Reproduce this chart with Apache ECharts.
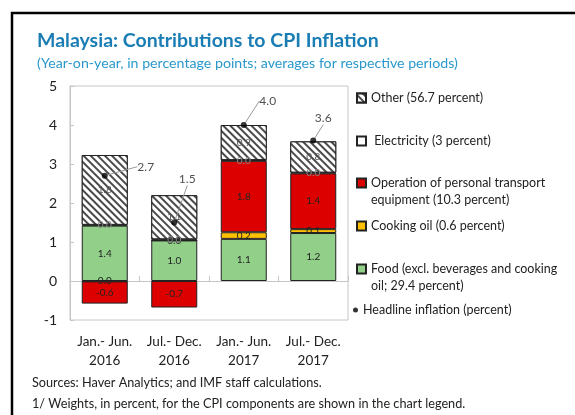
<!DOCTYPE html>
<html>
<head>
<meta charset="utf-8">
<script src="https://cdn.jsdelivr.net/npm/echarts@6/dist/echarts.min.js"></script>
<style>
html,body{margin:0;padding:0;background:#fff;}
#chart{width:575px;height:415px;}
</style>
</head>
<body>
<div id="chart"></div>
<script>
var periods = ["Jan.- Jun.\n2016", "Jul.- Dec.\n2016", "Jan.- Jun.\n2017", "Jul.- Dec.\n2017"];

var food = [1.42, 1.04, 1.08, 1.23];
var cookingOil = [-0.01, 0.0, 0.17, 0.1];
var transport = [-0.57, -0.68, 1.83, 1.43];
var electricity = [0.02, 0.03, 0.02, 0.02];
var other = [1.79, 1.13, 0.9, 0.8];
var headline = [2.7, 1.5, 4.0, 3.6];

var names = [
    "Other (56.7 percent)",
    " Electricity (3 percent)",
    "Operation of personal transport\nequipment (10.3 percent)",
    "Cooking oil (0.6 percent)",
    "Food (excl. beverages and cooking\noil; 29.4 percent)",
    "Headline inflation (percent)"
];

// label offsets for the headline callouts
var calloutDx = [41, 13, 24, 10];
var calloutDy = [-9, -43, -24, -22];

var font = "Lato, 'Open Sans', sans-serif";

chartMain();

function chartMain() {
    var chart = echarts.init(document.getElementById("chart"));

    function fmt(p) {
        var v = Math.round(p.value * 10) / 10;
        if (v === 0) v = 0;
        return v.toFixed(1);
    }

    function barSeries(name, data, fill, labelColor) {
        return {
            name: name,
            type: "bar",
            stack: "cpi",
            barWidth: 46,
            data: data,
            itemStyle: {
                color: fill,
                borderColor: "#222",
                borderWidth: 1
            },
            label: {
                show: true,
                position: "inside",
                formatter: fmt,
                fontFamily: font,
                fontSize: 10,
                color: labelColor
            }
        };
    }

    var hatch = {
        symbol: "rect",
        symbolSize: 1,
        color: "#4a4a4a",
        backgroundColor: "#ffffff",
        dashArrayX: [1, 0],
        dashArrayY: [1.8, 3],
        rotation: Math.PI / 4
    };

    var series = [
        barSeries(names[4], food, "#92d08a", "#222"),
        barSeries(names[3], cookingOil, "#ffc000", "#222"),
        barSeries(names[2], transport, "#dd0000", "#222"),
        barSeries(names[1], electricity, "#ffffff", "#8a8a8a"),
        barSeries(names[0], other, "#ffffff", "#555")
    ];
    series[4].itemStyle.decal = hatch;

    series.push({
        name: names[5],
        type: "scatter",
        data: headline,
        symbol: "circle",
        symbolSize: 6,
        z: 5,
        itemStyle: { color: "#000" },
        label: {
            show: true,
            position: "inside",
            formatter: function (p) { return p.value.toFixed(1); },
            fontFamily: font,
            fontSize: 12,
            color: "#222"
        },
        labelLayout: function (p) {
            return { dx: calloutDx[p.dataIndex], dy: calloutDy[p.dataIndex] };
        },
        labelLine: {
            show: true,
            lineStyle: { color: "#999", width: 1 }
        }
    });

    // first-line centre of each legend entry; two-line entries get an
    // empty line on top so the icon sits beside their first line
    var legendRows = [98, 141, 183, 226, 269, 310];
    var legends = [];
    for (var i = 0; i < names.length; i++) {
        var twoLine = names[i].indexOf("\n") >= 0;
        legends.push({
            data: [{ name: names[i], icon: i === 5 ? "circle" : "rect" }],
            formatter: twoLine ? function (n) { return " \n" + n; } : "{name}",
            left: i === 5 ? 353 : 356,
            top: legendRows[i] - (twoLine ? 25.5 : 8.5),
            padding: 0,
            itemWidth: i === 5 ? 5 : 9,
            itemHeight: i === 5 ? 5 : 9,
            itemGap: 0,
            selectedMode: false,
            textStyle: {
                fontFamily: font,
                fontSize: 12.5,
                color: "#222",
                lineHeight: 17
            }
        });
    }

    var option = {
        animation: false,
        backgroundColor: "#fff",
        title: [{
            text: "Malaysia: Contributions to CPI Inflation",
            subtext: "(Year-on-year, in percentage points; averages for respective periods)",
            left: 37,
            top: 31,
            padding: 0,
            itemGap: 5,
            textStyle: {
                fontFamily: font,
                fontSize: 19.5,
                fontWeight: "bold",
                color: "#1a7db4"
            },
            subtextStyle: {
                fontFamily: font,
                fontSize: 14.2,
                color: "#2a98cc"
            }
        }, {
            text: "Sources: Haver Analytics; and IMF staff calculations.\n1/ Weights, in percent, for the CPI components are shown in the chart legend.",
            left: 32,
            top: 372,
            padding: 0,
            textStyle: {
                fontFamily: font,
                fontSize: 12.7,
                fontWeight: "normal",
                color: "#222",
                lineHeight: 21
            }
        }],
        legend: legends,
        grid: {
            left: 70,
            right: 227,
            top: 86,
            bottom: 95,
            show: true,
            borderColor: "#c6c6c6",
            borderWidth: 1
        },
        xAxis: [{
            type: "category",
            data: periods,
            axisLine: { onZero: true, lineStyle: { color: "#c6c6c6" } },
            axisTick: { show: true, inside: true, length: 5, lineStyle: { color: "#c6c6c6" } },
            axisLabel: { show: false }
        }, {
            type: "category",
            data: periods,
            position: "bottom",
            axisLine: { show: false },
            axisTick: { show: false },
            axisLabel: {
                interval: 0,
                margin: 12,
                fontFamily: font,
                fontSize: 13.5,
                color: "#222",
                lineHeight: 19
            }
        }],
        yAxis: {
            type: "value",
            min: -1,
            max: 5,
            interval: 1,
            axisLine: { show: true, lineStyle: { color: "#c6c6c6" } },
            axisTick: { show: true, inside: true, length: 4, lineStyle: { color: "#c6c6c6" } },
            splitLine: { show: false },
            axisLabel: {
                margin: 13,
                fontFamily: font,
                fontSize: 14,
                color: "#222"
            }
        },
        graphic: [{
            type: "rect",
            shape: { x: 12, y: 13, width: 700, height: 600 },
            style: { fill: null, stroke: "#000", lineWidth: 2.5 },
            silent: true
        }],
        series: series
    };

    chart.setOption(option);
}
</script>
</body>
</html>
